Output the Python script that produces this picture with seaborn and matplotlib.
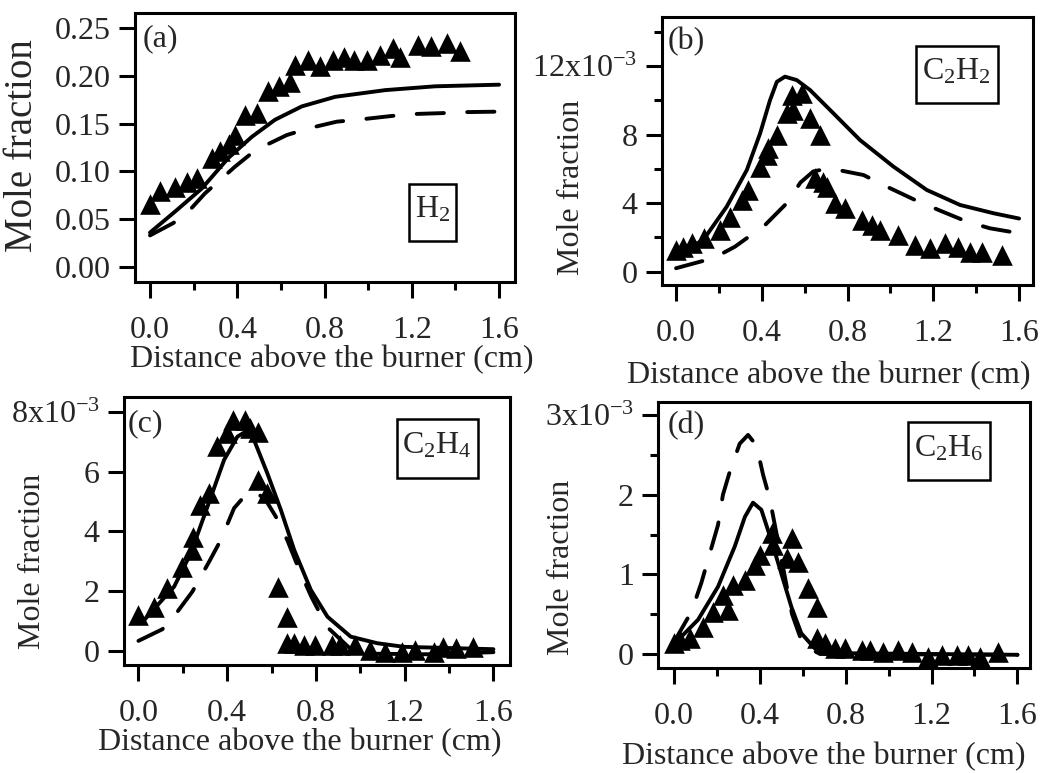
import matplotlib
matplotlib.use("Agg")
import matplotlib.pyplot as plt
from matplotlib.patches import Rectangle
import seaborn as sns

# ---------------------------------------------------------------------------
# Datos (distancia en cm; C2H2, C2H4, C2H6 en unidades de 1e-3)
# ---------------------------------------------------------------------------

# (a) H2
h2_exp_x = [0.0, 0.046, 0.115, 0.168, 0.214, 0.283, 0.32, 0.36, 0.39, 0.436, 0.49, 0.543,
            0.589, 0.642, 0.665, 0.726, 0.78, 0.84, 0.887, 0.933, 0.994, 1.055, 1.116,
            1.147, 1.23, 1.29, 1.36, 1.42]
h2_exp_y = [0.066, 0.079, 0.084, 0.089, 0.093, 0.114, 0.121, 0.129, 0.138, 0.159, 0.161,
            0.184, 0.189, 0.194, 0.2115, 0.217, 0.21, 0.217, 0.22, 0.217, 0.217, 0.222,
            0.229, 0.22, 0.2325, 0.231, 0.234, 0.2255]
h2_sol_x = [0.0, 0.115, 0.237, 0.359, 0.466, 0.573, 0.696, 0.849, 1.078, 1.307, 1.6]
h2_sol_y = [0.036, 0.058, 0.082, 0.114, 0.136, 0.154, 0.168, 0.178, 0.185, 0.189, 0.1907]
h2_dash_x = [0.0, 0.107, 0.168, 0.252, 0.39, 0.482, 0.627, 0.726, 0.856, 0.971, 1.109,
             1.208, 1.345, 1.445, 1.6]
h2_dash_y = [0.033, 0.046, 0.056, 0.077, 0.105, 0.122, 0.138, 0.145, 0.152, 0.1545, 0.158,
             0.16, 0.161, 0.162, 0.1625]

# (b) C2H2
c2h2_exp_x = [0.0, 0.034, 0.073, 0.128, 0.205, 0.252, 0.306, 0.337, 0.392, 0.423, 0.43,
              0.47, 0.516, 0.547, 0.54, 0.586, 0.625, 0.672, 0.648, 0.687, 0.703, 0.742,
              0.789, 0.866, 0.913, 0.95, 1.037, 1.115, 1.185, 1.255, 1.317, 1.372, 1.426, 1.52]
c2h2_exp_y = [1.26, 1.46, 1.65, 1.95, 2.43, 3.2, 4.18, 4.77, 6.13, 6.8, 7.2, 7.98, 9.24,
              9.44, 10.3, 10.4, 8.95, 7.98, 5.45, 5.25, 4.96, 3.99, 3.7, 3.0, 2.72, 2.43,
              2.14, 1.56, 1.36, 1.65, 1.46, 1.17, 1.17, 0.97]
c2h2_sol_x = [0.0, 0.127, 0.236, 0.33, 0.392, 0.438, 0.47, 0.508, 0.563, 0.625, 0.734,
              0.858, 1.014, 1.169, 1.325, 1.48, 1.6]
c2h2_sol_y = [0.97, 1.85, 3.79, 5.93, 8.07, 10.0, 11.08, 11.38, 11.18, 10.6, 9.24, 7.68,
              6.13, 4.77, 3.89, 3.41, 3.1]
c2h2_dash_x = [0.0, 0.112, 0.174, 0.275, 0.415, 0.516, 0.58, 0.64, 0.70, 0.757, 0.874,
               0.983, 1.115, 1.224, 1.356, 1.464, 1.6]
c2h2_dash_y = [0.2, 0.58, 0.78, 1.46, 2.72, 3.99, 5.2, 5.85, 6.0, 5.93, 5.64, 4.96, 4.18,
               3.6, 2.92, 2.53, 2.24]

# (c) C2H4
c2h4_exp_x = [0.0, 0.068, 0.128, 0.195, 0.24, 0.248, 0.278, 0.316, 0.353, 0.398, 0.428,
              0.481, 0.503, 0.541, 0.541, 0.578, 0.631, 0.668, 0.668, 0.699, 0.744, 0.796,
              0.871, 0.909, 0.977, 1.044, 1.112, 1.187, 1.247, 1.33, 1.375, 1.43, 1.51]
c2h4_exp_y = [1.2, 1.48, 2.09, 2.82, 3.38, 3.83, 4.89, 5.28, 6.85, 7.29, 7.74, 7.74, 7.46,
              7.35, 5.73, 5.28, 2.15, 1.14, 0.25, 0.25, 0.19, 0.19, 0.19, 0.19, 0.19, 0.02,
              -0.03, -0.03, 0.02, -0.03, 0.13, 0.08, 0.13]
c2h4_sol_x = [0.0, 0.026, 0.161, 0.236, 0.311, 0.386, 0.446, 0.484, 0.521, 0.581, 0.642,
              0.702, 0.777, 0.852, 0.957, 1.077, 1.197, 1.6]
c2h4_sol_y = [0.92, 1.03, 2.15, 3.27, 4.83, 6.4, 7.18, 7.35, 7.07, 5.95, 4.72, 3.38, 2.04,
              1.14, 0.47, 0.25, 0.13, 0.05]
c2h4_dash_x = [0.0, 0.108, 0.176, 0.243, 0.319, 0.371, 0.431, 0.48, 0.521, 0.57, 0.619,
               0.671, 0.72, 0.78, 0.85, 0.95, 1.05, 1.3, 1.6]
c2h4_dash_y = [0.33, 0.72, 1.31, 1.98, 2.99, 3.71, 4.78, 5.2, 5.34, 5.1, 4.5, 3.71, 2.8,
               1.8, 0.8, 0.1, -0.1, -0.12, -0.05]

# (d) C2H6
c2h6_exp_x = [0.0, 0.028, 0.075, 0.137, 0.183, 0.253, 0.23, 0.277, 0.331, 0.377, 0.4,
              0.463, 0.455, 0.525, 0.548, 0.58, 0.626, 0.665, 0.665, 0.704, 0.75, 0.797,
              0.875, 0.913, 0.976, 1.045, 1.108, 1.185, 1.247, 1.317, 1.37, 1.426, 1.51]
c2h6_exp_y = [0.134, 0.176, 0.197, 0.343, 0.531, 0.552, 0.74, 0.866, 0.929, 1.117, 1.243,
              1.368, 1.515, 1.2, 1.45, 1.16, 0.824, 0.594, 0.197, 0.134, 0.071, 0.071,
              0.05, 0.05, 0.03, 0.05, 0.03, -0.033, -0.013, -0.013, -0.013, -0.033, 0.03]
c2h6_sol_x = [0.0, 0.019, 0.112, 0.205, 0.283, 0.33, 0.368, 0.407, 0.453, 0.5, 0.547,
              0.593, 0.656, 0.78, 1.6]
c2h6_sol_y = [0.134, 0.176, 0.43, 0.845, 1.35, 1.72, 1.9, 1.81, 1.43, 1.01, 0.59, 0.26,
              0.07, 0.01, -0.01]
c2h6_dash_x = [0.0, 0.081, 0.127, 0.205, 0.228, 0.26, 0.306, 0.345, 0.384, 0.415, 0.446,
               0.5, 0.55, 0.6, 0.68, 1.6]
c2h6_dash_y = [0.15, 0.53, 0.89, 1.62, 2.0, 2.29, 2.64, 2.75, 2.62, 2.25, 1.95, 1.2, 0.5,
               0.12, 0.0, -0.01]

# Etiquetas de ejes y ticks
etiqueta_x = 'Distance above the burner (cm)'
etiqueta_y = 'Mole fraction'
x_ticks = [0.0, 0.4, 0.8, 1.2, 1.6]
x_tick_labels = ['0.0', '0.4', '0.8', '1.2', '1.6']
x_minor = [0.2, 0.6, 1.0, 1.4]

h2_ticks = [0.0, 0.05, 0.10, 0.15, 0.20, 0.25]
h2_tick_labels = ['0.00', '0.05', '0.10', '0.15', '0.20', '0.25']
c2h2_ticks = [0, 4, 8, 12]
c2h2_tick_labels = ['0', '4', '8', r'12x10$^{\mathregular{-3}}$']
c2h2_minor = [2, 6, 10, 14]
c2h4_ticks = [0, 2, 4, 6, 8]
c2h4_tick_labels = ['0', '2', '4', '6', r'8x10$^{\mathregular{-3}}$']
c2h6_ticks = [0, 1, 2, 3]
c2h6_tick_labels = ['0', '1', '2', r'3x10$^{\mathregular{-3}}$']
c2h6_minor = [0.5, 1.5, 2.5]

# ---------------------------------------------------------------------------
# Estilo
# ---------------------------------------------------------------------------
sns.set_style('ticks')
plt.rcParams['font.family'] = ['Liberation Serif', 'DejaVu Serif']
plt.rcParams['mathtext.fontset'] = 'custom'
plt.rcParams['mathtext.rm'] = 'Liberation Serif'
plt.rcParams['mathtext.it'] = 'Liberation Serif:italic'

FS = 23
LW = 2.8
DASH = (0, (7, 6))
FIG_W, FIG_H = 1051, 773


def dibujar_panel(ax, exp_x, exp_y, sol_x, sol_y, dash_x, dash_y):
    """Dibuja puntos experimentales (triangulos) y las dos curvas de modelo."""
    sns.lineplot(x=sol_x, y=sol_y, ax=ax, color='black', linewidth=LW,
                 estimator=None, sort=False)
    sns.lineplot(x=dash_x, y=dash_y, ax=ax, color='black', linewidth=LW,
                 estimator=None, sort=False, linestyle=DASH)
    ax.lines[-1].set_linestyle(DASH)
    for ln in ax.lines:
        ln.set_solid_joinstyle('round')
        ln.set_dash_capstyle('round')
    sns.scatterplot(x=exp_x, y=exp_y, ax=ax, marker='^', color='black', s=220,
                    linewidth=0, zorder=3)


def formato_panel(ax, xlim, ylim, yticks, ylabels, yminor, letra, especie, especie_pos,
                  caja_px, xlabel_pos, ylabel_pos, ylabel_fs=FS):
    ax.set_xlim(*xlim)
    ax.set_ylim(*ylim)
    ax.set_xticks(x_ticks)
    ax.set_xticklabels(x_tick_labels)
    ax.set_xticks(x_minor, minor=True)
    ax.set_yticks(yticks)
    ax.set_yticklabels(ylabels)
    ax.set_yticks(yminor, minor=True)
    ax.tick_params(axis='both', which='major', direction='out', length=11.5, width=2.2,
                   labelsize=FS, color='black')
    ax.tick_params(axis='both', which='minor', direction='out', length=6, width=2.2,
                   color='black')
    ax.tick_params(axis='x', which='major', pad=13)
    ax.tick_params(axis='y', which='major', pad=6)
    for sp in ax.spines.values():
        sp.set_visible(True)
        sp.set_linewidth(2.2)
        sp.set_color('black')
    ax.set_xlabel(etiqueta_x, fontsize=FS, va='center')
    ax.xaxis.set_label_coords(*xlabel_pos)
    ax.set_ylabel(etiqueta_y, fontsize=ylabel_fs, va='center')
    ax.yaxis.set_label_coords(*ylabel_pos)
    ax.text(letra[1], letra[2], letra[0], transform=ax.transAxes, fontsize=FS,
            ha='left', va='center')

    # caja de la especie (tamano fijo en pixeles)
    pos = ax.get_position()
    bw = caja_px[0] / (pos.width * FIG_W)
    bh = caja_px[1] / (pos.height * FIG_H)
    ax.add_patch(Rectangle((especie_pos[0] - bw / 2, especie_pos[1] - bh / 2), bw, bh,
                           transform=ax.transAxes, fc='white', ec='black', lw=1.8,
                           zorder=4))
    ax.text(especie_pos[0], especie_pos[1] + 0.01, especie, transform=ax.transAxes,
            fontsize=FS, ha='center', va='center', zorder=5)
    ax.set_facecolor('white')
    ax.grid(False)


fig = plt.figure(figsize=(FIG_W / 100, FIG_H / 100), dpi=100)
fig.patch.set_facecolor('white')

ax_a = fig.add_axes([0.1284, 0.6352, 0.3616, 0.348])
ax_b = fig.add_axes([0.6296, 0.6313, 0.3533, 0.3471])
ax_c = fig.add_axes([0.1180, 0.1397, 0.3673, 0.3471])
ax_d = fig.add_axes([0.6264, 0.1354, 0.3537, 0.3449])

dibujar_panel(ax_a, h2_exp_x, h2_exp_y, h2_sol_x, h2_sol_y, h2_dash_x, h2_dash_y)
formato_panel(ax_a, (-0.069, 1.673), (-0.0157, 0.2657), h2_ticks, h2_tick_labels, [],
              ('(a)', 0.02, 0.903), r'H$_{\mathregular{2}}$', (0.784, 0.257), (47, 57),
              (0.518, -0.29), (-0.295, 0.509), ylabel_fs=28)

dibujar_panel(ax_b, c2h2_exp_x, c2h2_exp_y, c2h2_sol_x, c2h2_sol_y, c2h2_dash_x, c2h2_dash_y)
formato_panel(ax_b, (-0.067, 1.665), (-0.78, 14.88), c2h2_ticks, c2h2_tick_labels,
              c2h2_minor, ('(b)', 0.017, 0.909),
              r'C$_{\mathregular{2}}$H$_{\mathregular{2}}$', (0.795, 0.783), (82, 57),
              (0.45, -0.339), (-0.2416, 0.365))

dibujar_panel(ax_c, c2h4_exp_x, c2h4_exp_y, c2h4_sol_x, c2h4_sol_y, c2h4_dash_x, c2h4_dash_y)
formato_panel(ax_c, (-0.065, 1.675), (-0.48, 8.52), c2h4_ticks, c2h4_tick_labels, [],
              ('(c)', 0.01, 0.898),
              r'C$_{\mathregular{2}}$H$_{\mathregular{4}}$', (0.811, 0.807), (81, 59),
              (0.456, -0.29), (-0.236, 0.386))

dibujar_panel(ax_d, c2h6_exp_x, c2h6_exp_y, c2h6_sol_x, c2h6_sol_y, c2h6_dash_x, c2h6_dash_y)
formato_panel(ax_d, (-0.073, 1.659), (-0.18, 3.167), c2h6_ticks, c2h6_tick_labels,
              c2h6_minor, ('(d)', 0.026, 0.909),
              r'C$_{\mathregular{2}}$H$_{\mathregular{6}}$', (0.782, 0.815), (82, 58),
              (0.446, -0.33), (-0.26, 0.378))

fig.savefig('out.png', dpi=100, facecolor='white')
